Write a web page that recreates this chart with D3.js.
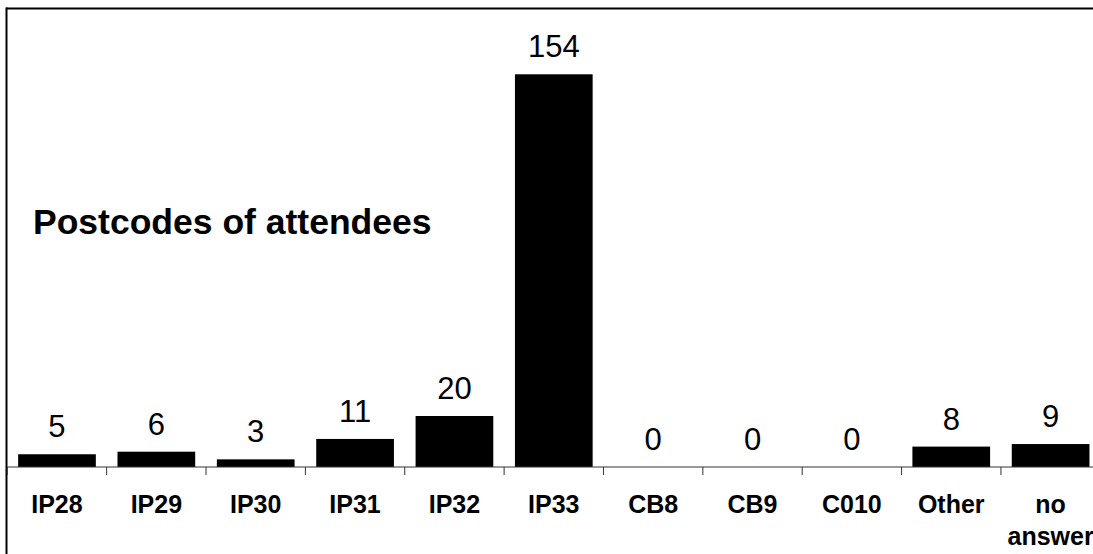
<!DOCTYPE html>
<html>
<head>
<meta charset="utf-8">
<script src="https://cdn.jsdelivr.net/npm/d3@7"></script>
<style>
  html, body { margin: 0; padding: 0; background: #fff; overflow: hidden; }
  svg { display: block; }
  text { font-family: "Liberation Sans", Arial, sans-serif; }
</style>
</head>
<body>
<svg id="chart" width="1093" height="554"></svg>
<script>
const categories = ["IP28", "IP29", "IP30", "IP31", "IP32", "IP33", "CB8", "CB9", "C010", "Other", "no answer"];
const values = [5, 6, 3, 11, 20, 154, 0, 0, 0, 8, 9];
const title = "Postcodes of attendees";
const yMax = 180;

(function () {
const svg = d3.select("#chart");

const plotLeft = 7.3, plotRight = 1100.3, plotTop = 8, baseY = 467;

// outer frame: only top and left edges are visible in the picture
svg.append("line")
  .attr("x1", 6).attr("x2", 1093).attr("y1", 8.5).attr("y2", 8.5)
  .attr("stroke", "#000").attr("stroke-width", 2);
svg.append("line")
  .attr("x1", 6.5).attr("x2", 6.5).attr("y1", 7.5).attr("y2", 554)
  .attr("stroke", "#000").attr("stroke-width", 2);

const x = d3.scaleBand()
  .domain(categories)
  .range([plotLeft, plotRight])
  .paddingInner(0.218)
  .paddingOuter(0.109);

const xb = d3.scaleBand().domain(categories).range([plotLeft, plotRight]).padding(0);

const y = d3.scaleLinear().domain([0, yMax]).range([baseY, plotTop]);

// bars
svg.append("g").selectAll("rect")
  .data(categories)
  .join("rect")
  .attr("x", d => x(d))
  .attr("width", x.bandwidth())
  .attr("y", (d, i) => y(values[i]))
  .attr("height", (d, i) => y(0) - y(values[i]))
  .attr("fill", "#000");

// axis line
svg.append("line")
  .attr("x1", plotLeft).attr("x2", plotRight)
  .attr("y1", y(0)).attr("y2", y(0))
  .attr("stroke", "#333").attr("stroke-width", 1);

// tick marks at category boundaries
const boundaries = categories.map(d => xb(d)).concat([plotRight]);
svg.append("g").selectAll("line")
  .data(boundaries)
  .join("line")
  .attr("x1", d => d).attr("x2", d => d)
  .attr("y1", y(0)).attr("y2", y(0) + 8)
  .attr("stroke", "#333").attr("stroke-width", 1);

// value labels
svg.append("g").selectAll("text")
  .data(categories)
  .join("text")
  .attr("x", d => x(d) + x.bandwidth() / 2)
  .attr("y", (d, i) => y(values[i]) - 17)
  .attr("text-anchor", "middle")
  .attr("font-size", 31)
  .attr("fill", "#000")
  .text((d, i) => values[i]);

// category labels
const cat = svg.append("g").selectAll("text")
  .data(categories)
  .join("text")
  .attr("x", d => x(d) + x.bandwidth() / 2)
  .attr("y", 513)
  .attr("text-anchor", "middle")
  .attr("font-size", 25)
  .attr("font-weight", "bold")
  .attr("fill", "#000");
cat.each(function(d) {
  const words = d === "no answer" ? ["no", "answer"] : [d];
  const t = d3.select(this);
  words.forEach((w, j) => {
    t.append("tspan")
      .attr("x", x(d) + x.bandwidth() / 2)
      .attr("dy", j === 0 ? 0 : 32)
      .text(w);
  });
});

// title
svg.append("text")
  .attr("x", 33)
  .attr("y", 234)
  .attr("font-size", 35.5)
  .attr("font-weight", "bold")
  .attr("fill", "#000")
  .text(title);
})();
</script>
</body>
</html>
